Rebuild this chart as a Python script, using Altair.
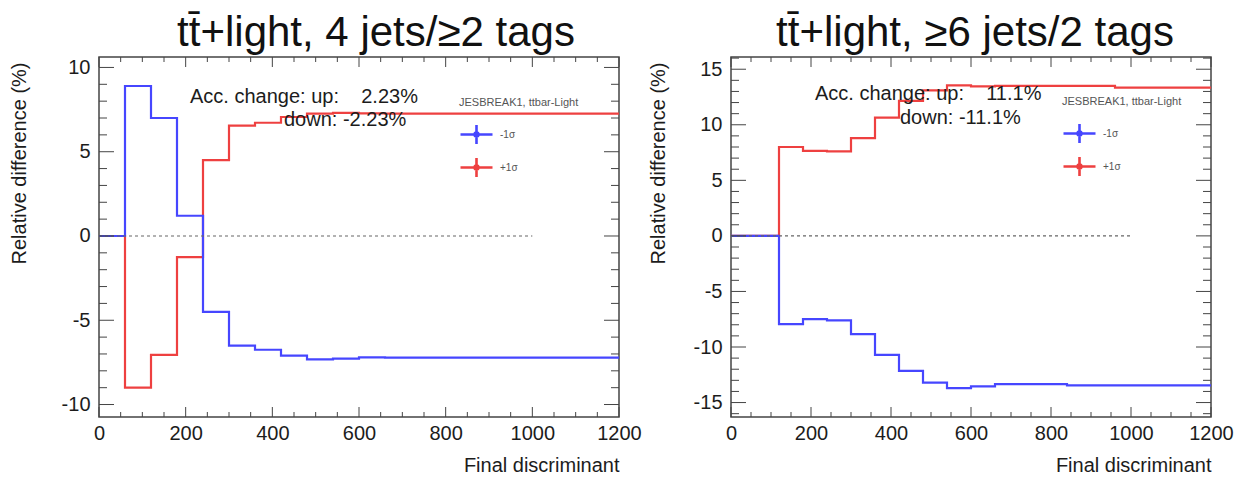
import altair as alt
import pandas as pd

# Bin edges of the final-discriminant histogram (60-wide bins)
bin_edges = [0, 60, 120, 180, 240, 300, 360, 420, 480, 540, 600,
             660, 720, 780, 840, 900, 960, 1020, 1080, 1140, 1200]

# Relative difference (%) per bin, 4 jets / >=2 tags
left_minus = [0, 8.9, 7.0, 1.2, -4.5, -6.5, -6.75, -7.1, -7.32, -7.28,
              -7.2, -7.22, -7.22, -7.22, -7.22, -7.22, -7.22, -7.22, -7.22, -7.22]
left_plus = [0, -9.0, -7.05, -1.25, 4.5, 6.55, 6.72, 7.06, 7.26, 7.3,
             7.28, 7.26, 7.26, 7.26, 7.26, 7.26, 7.26, 7.26, 7.26, 7.26]

# Relative difference (%) per bin, >=6 jets / 2 tags
right_minus = [0, 0, -7.95, -7.5, -7.6, -8.85, -10.7, -12.15, -13.2, -13.7,
               -13.55, -13.35, -13.35, -13.35, -13.45, -13.45, -13.45, -13.45, -13.45, -13.45]
right_plus = [0, 0, 8.0, 7.65, 7.6, 8.8, 10.65, 12.15, 13.1, 13.55,
              13.45, 13.5, 13.5, 13.5, 13.5, 13.5, 13.35, 13.35, 13.35, 13.35]

sigma_labels = ["-1σ", "+1σ"]
sigma_colors = ["#4646ff", "#ee4040"]

x_major = [0, 200, 400, 600, 800, 1000, 1200]
x_minor = [v for v in range(0, 1201, 50) if v % 200]
zero_line_end = 1000

FONT = "Liberation Sans"
TXT = "#1c1c1c"
TICK = "#444444"
LEGEND_SYMBOL = ("M-1,0H1M0,-0.6V0.6"
                 "M0.12,0A0.12,0.12 0 1 1 -0.12,0A0.12,0.12 0 1 1 0.12,0Z")
PLAIN_NUMBER = "'' + datum.value"


def step_frame(minus, plus):
    rows = []
    for label, vals in (("+1σ", plus), ("-1σ", minus)):
        closed = list(vals) + [vals[-1]]
        for x, v in zip(bin_edges, closed):
            rows.append({"disc": x, "diff": v, "sigma": label})
    return pd.DataFrame(rows)


def panel(minus, plus, title, title_dx, ydom, y_major, W, H, ytitle_x,
          acc_up, acc_down, ann, leg):
    xs = alt.Scale(domain=[0, 1200], nice=False, zero=False)
    ys = alt.Scale(domain=ydom, nice=False, zero=False)
    y_minor = [v for v in range(int(ydom[0]), int(ydom[1]) + 1) if v % 5]

    x_axis = alt.Axis(values=x_major, ticks=False, domain=False, grid=False,
                      labelExpr=PLAIN_NUMBER,
                      labelFontSize=20, labelFont=FONT, labelColor=TXT,
                      labelPadding=6, labelFlush=False,
                      title="Final discriminant", titleFontSize=20,
                      titleFont=FONT, titleFontWeight="normal",
                      titleColor=TXT, titleX=W, titleY=54,
                      titleAlign="right", titleBaseline="alphabetic")
    y_axis = alt.Axis(values=y_major, ticks=False, domain=False, grid=False,
                      labelExpr=PLAIN_NUMBER,
                      labelFontSize=20, labelFont=FONT, labelColor=TXT,
                      labelPadding=9, labelFlush=False,
                      title="Relative difference (%)", titleFontSize=20,
                      titleFont=FONT, titleFontWeight="normal",
                      titleColor=TXT, titleAngle=270, titleX=ytitle_x,
                      titleY=5, titleAlign="right", titleBaseline="bottom")

    def xe(field):
        return alt.X(field, scale=xs, axis=x_axis)

    def ye(field):
        return alt.Y(field, scale=ys, axis=y_axis)

    df = step_frame(minus, plus)
    color = alt.Color(
        "sigma:N",
        scale=alt.Scale(domain=sigma_labels, range=sigma_colors),
        legend=alt.Legend(
            title="JESBREAK1, ttbar-Light", orient="none",
            legendX=leg[0], legendY=leg[1],
            titleFontSize=11, titleFont=FONT, titleFontWeight="normal",
            titleColor="#555555", titlePadding=9,
            labelFontSize=10, labelFont=FONT, labelColor="#555555",
            labelOffset=6, symbolType=LEGEND_SYMBOL, symbolSize=1024,
            symbolStrokeWidth=2.6, rowPadding=-1,
        ),
    )

    base = alt.Chart(df)
    red = base.transform_filter(alt.datum.sigma == "+1σ").mark_line(
        interpolate="step-after", strokeWidth=2.2).encode(
        x=xe("disc:Q"), y=ye("diff:Q"), color=color)
    blue = base.transform_filter(alt.datum.sigma == "-1σ").mark_line(
        interpolate="step-after", strokeWidth=2.2).encode(
        x=xe("disc:Q"), y=ye("diff:Q"), color=color)

    zero = alt.Chart(pd.DataFrame({"disc": [0], "b": [zero_line_end], "diff": [0]})).mark_rule(
        color="#666666", strokeWidth=1.2, strokeDash=[3, 3]).encode(
        x=xe("disc:Q"), x2="b:Q", y=ye("diff:Q"))

    def xticks(vals, length):
        d = alt.Chart(pd.DataFrame({"disc": vals}))
        bot = d.mark_rule(color=TICK, strokeWidth=1).encode(
            x=xe("disc:Q"), y=alt.value(H), y2=alt.value(H - length))
        top = d.mark_rule(color=TICK, strokeWidth=1).encode(
            x=xe("disc:Q"), y=alt.value(0), y2=alt.value(length))
        return [bot, top]

    def yticks(vals, length):
        d = alt.Chart(pd.DataFrame({"diff": vals}))
        lft = d.mark_rule(color=TICK, strokeWidth=1).encode(
            y=ye("diff:Q"), x=alt.value(0), x2=alt.value(length))
        rgt = d.mark_rule(color=TICK, strokeWidth=1).encode(
            y=ye("diff:Q"), x=alt.value(W), x2=alt.value(W - length))
        return [lft, rgt]

    ticks = (xticks(x_major, 10) + xticks(x_minor, 5)
             + yticks(y_major, 15) + yticks(y_minor, 8))

    up = alt.Chart(pd.DataFrame({"s": [acc_up]})).mark_text(
        align="left", baseline="alphabetic", fontSize=20, font=FONT, color=TXT).encode(
        text="s:N", x=alt.value(ann[0]), y=alt.value(ann[1]))
    down = alt.Chart(pd.DataFrame({"s": [acc_down]})).mark_text(
        align="left", baseline="alphabetic", fontSize=20, font=FONT, color=TXT).encode(
        text="s:N", x=alt.value(ann[2]), y=alt.value(ann[3]))

    layers = [red, blue, zero] + ticks + [up, down]
    return alt.layer(*layers).properties(
        width=W, height=H,
        title=alt.TitleParams(title, fontSize=42, font=FONT, fontWeight="normal",
                              color="#111111", anchor="middle", dx=title_dx,
                              offset=-31, baseline="alphabetic"),
    )


left = panel(
    left_minus, left_plus, "tt\u0304+light, 4 jets/\u22652 tags", 17,
    [-10.74, 10.62], [-10, -5, 0, 5, 10], 520, 360, -70,
    "Acc. change: up:\u00a0\u00a0\u00a0 2.23%", "down: -2.23%",
    (91, 46, 185, 69), (360, 40),
)
right = panel(
    right_minus, right_plus, "tt\u0304+light, \u22656 jets/2 tags", 4,
    [-16.3, 16.1], [-15, -10, -5, 0, 5, 10, 15], 480, 360, -63,
    "Acc. change: up:\u00a0\u00a0\u00a0 11.1%", "down: -11.1%",
    (84, 43, 169, 67), (331, 39),
)

chart = alt.hconcat(left, right, spacing=5).resolve_legend(
    color="independent"
).configure(
    padding={"left": 8, "top": 10, "right": 5, "bottom": 5},
    background="white",
).configure_view(
    stroke="#444444", strokeWidth=1.5,
)

chart.save("out.html", embed_options={"renderer": "svg", "actions": False})
